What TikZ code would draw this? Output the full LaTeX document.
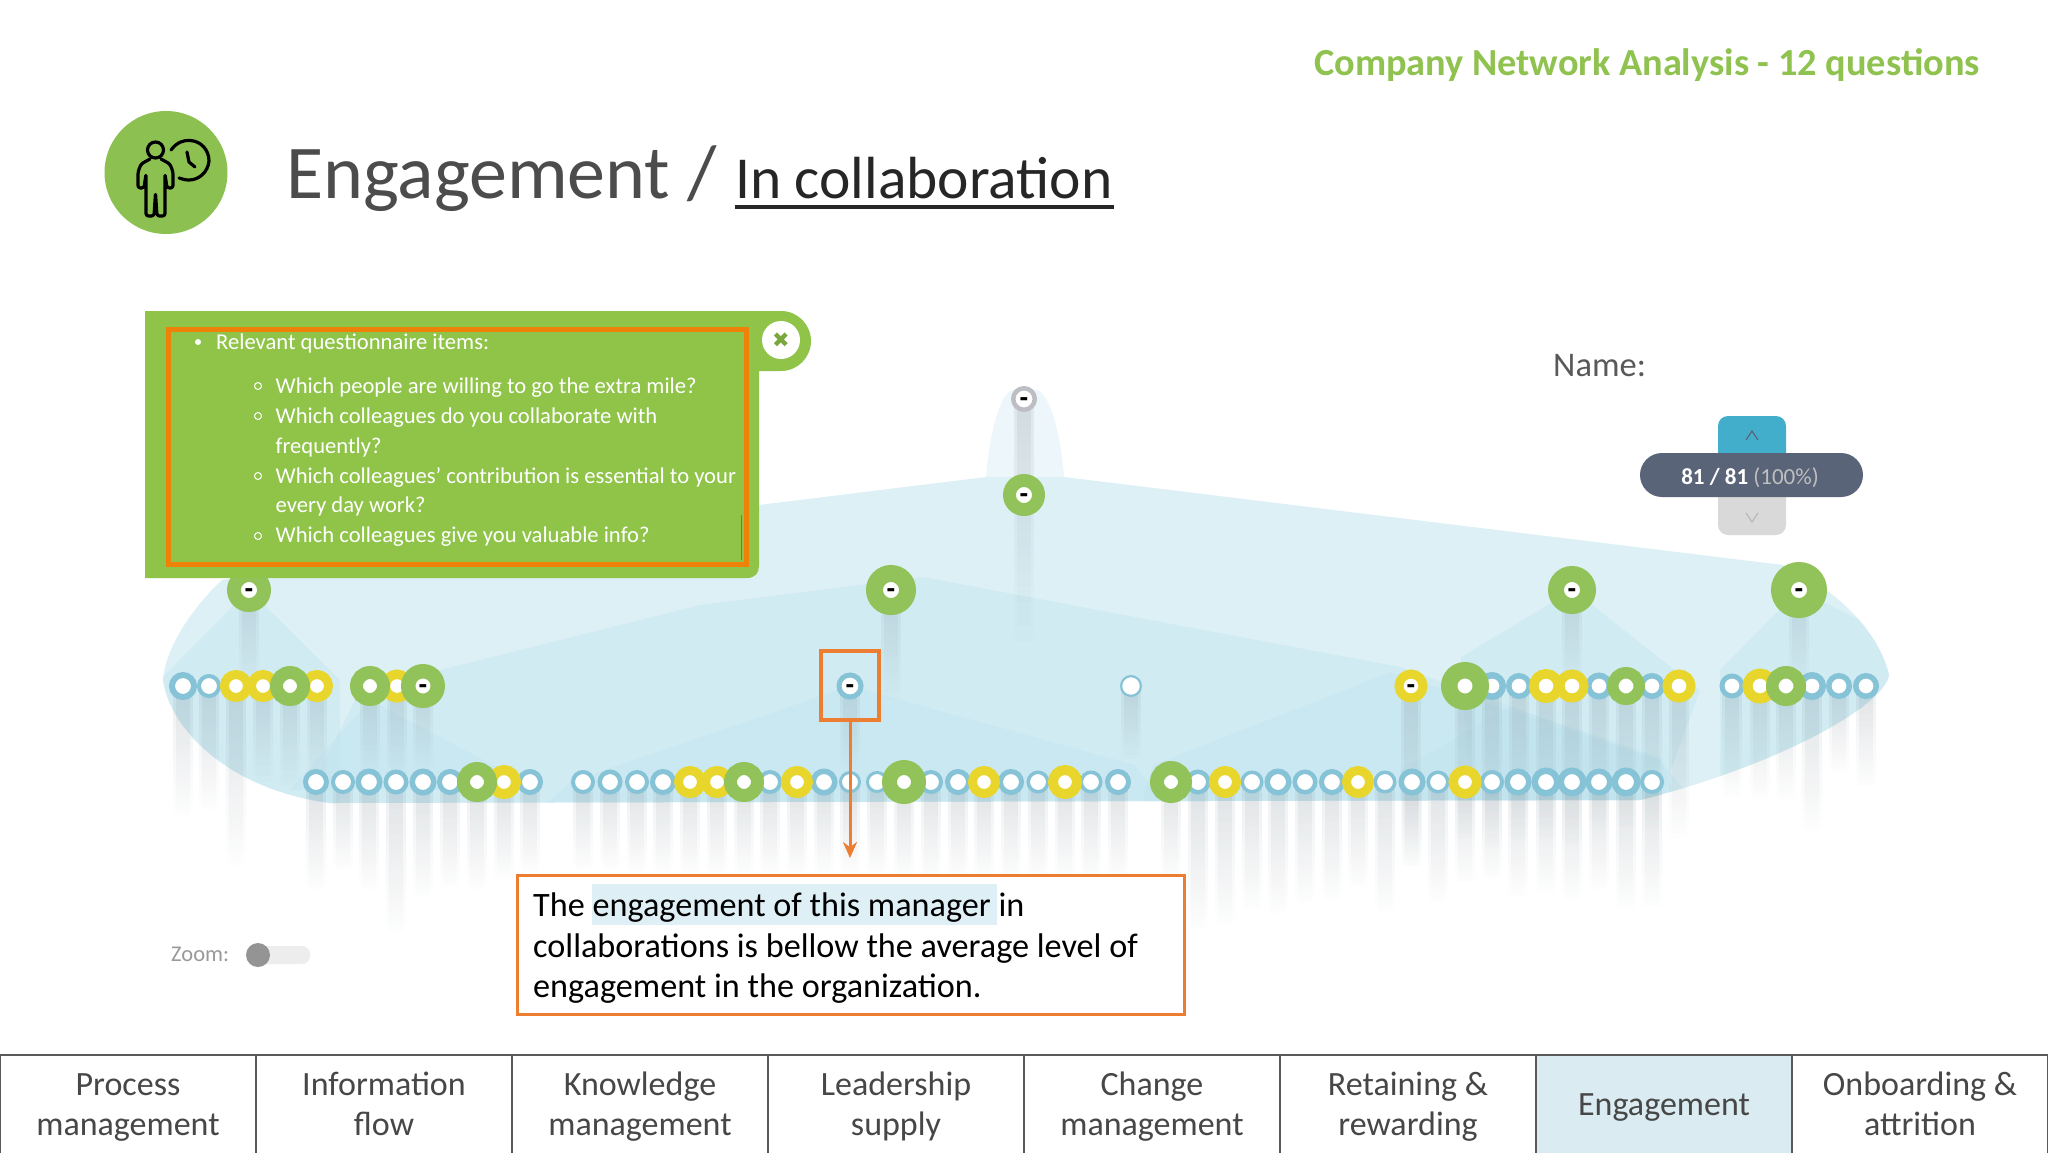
\documentclass[tikz,border=0pt]{standalone}
\usepackage{fontspec}
\setmainfont{Carlito}
\newfontfamily\symf{DejaVu Sans}
\usetikzlibrary{arrows.meta,fadings,calc}
\definecolor{rb}{HTML}{86C3D6}
\definecolor{ry}{HTML}{E9D62C}
\definecolor{rg}{HTML}{92C35B}
\definecolor{rgr}{HTML}{BDBEC4}
\definecolor{hullc}{HTML}{DDF0F6}
\definecolor{fanc}{HTML}{BEE3EE}
\definecolor{panelg}{HTML}{8FC449}
\definecolor{orng}{HTML}{EE8208}
\definecolor{orng2}{HTML}{ED7D31}
\definecolor{hl}{HTML}{DEEFF6}
\definecolor{pill}{HTML}{5A6478}
\definecolor{upb}{HTML}{42AECB}
\definecolor{titleg}{HTML}{8FC24F}
\definecolor{tabf}{HTML}{DAECF2}
\definecolor{barc}{HTML}{75858F}
\definecolor{iconc}{HTML}{8CC152}
\tikzfading[name=barfade, top color=transparent!0, middle color=transparent!6, bottom color=transparent!100]
\tikzset{
  ring/.style n args={3}{circle,inner sep=0pt,outer sep=0pt,fill=white,draw=#1,line width={(#2-#3)*1pt},minimum size={(#2+#3)*1pt},text=black},
  fan/.style={fill=fanc,opacity=.36},
  tabcell/.style={draw=black!65,line width=1.6pt,anchor=north west,outer sep=0pt,minimum width=256pt,minimum height=104pt,inner sep=0pt,align=center,text=black!72,font=\fontsize{34}{40}\selectfont},
  qtext/.style={anchor=base west,inner sep=0pt,text=white,font=\fontsize{22.6}{26}\selectfont},
  btn/.style={rounded corners=10pt,minimum width=68pt,minimum height=60pt,inner sep=0pt},
}
\newcommand{\minusmark}{\raisebox{-6pt}[0pt][0pt]{\symf\bfseries\fontsize{22}{22}\selectfont -}}
\newcommand{\pendant}[3]{%
  \fill[barc,opacity=.12,path fading=barfade] ({#1-10},#2) rectangle ({#1+10},#3);
  \fill[barc,opacity=.12,path fading=barfade] ({#1-7},#2) rectangle ({#1+7},#3);
}
\begin{document}
\begin{tikzpicture}[x=1pt,y=-1pt]
\useasboundingbox (0,0) rectangle (2048,1152);
\fill[white] (0,0) rectangle (2048,1152);
% header
\node[anchor=base east,inner sep=0pt,text=titleg,font=\bfseries\fontsize{38.3}{40}\selectfont] (company) at (1980,75) {Company Network Analysis - 12 questions};
\node[anchor=base west,inner sep=0pt,text=black!70,font=\fontsize{76}{80}\selectfont] (titlea) at (286,198) {Engagement /};
\node[anchor=base west,inner sep=0pt,text=black!85,font=\fontsize{59.5}{60}\selectfont] (titleb) at (735,198) {In collaboration};
\draw[line width=3.5pt,black!85] (735,207) -- (1114,207);
% icon
\fill[iconc] (166,172.5) circle (61.5);
\begin{scope}[black,line width=3.2pt,line join=round,line cap=round]
\draw (155.5,150) circle (8);
\draw[rounded corners=2.5pt] (150,159) -- (141,164) -- (138,172) -- (138,188) -- (144,188) -- (146,174) -- (146,216) -- (154,216) -- (155.5,193) -- (157,216) -- (165,216) -- (165,174) -- (167,188) -- (173,188) -- (173,172) -- (170,164) -- (161,159);
\draw (171,150) .. controls (177,142) and (184,140) .. (190,140.5) .. controls (201,141) and (209,150) .. (209,161) .. controls (208,172) and (199,180) .. (189,180) .. controls (185,180) and (182,179) .. (179,178);
\draw (187,152) -- (189,162) -- (195,167);
\end{scope}
% hull and layers
\fill[hl!55!white] (986,477) .. controls (990,430) and (1000,395) .. (1012,390) -- (1037,390) .. controls (1050,395) and (1060,430) .. (1064,477) -- cycle;
\def\hullpath{(222,580) -- (759,505) -- (986,477) -- (1064,477) -- (1783,565) .. controls (1840,590) and (1880,635) .. (1889,675) .. controls (1885,705) and (1780,765) .. (1640,800) -- (330,803) .. controls (230,790) and (170,730) .. (163,680) .. controls (165,650) and (190,610) .. (222,580) -- cycle}
\fill[hullc] \hullpath;
\begin{scope}
\clip \hullpath;
\fill[fan] (360,690) -- (700,605) -- (923,577) -- (1400,667) -- (1660,760) -- (1660,810) -- (300,810) -- cycle;
\fill[fan] (249,590) -- (150,690) -- (150,810) -- (340,810) -- (340,680) -- cycle;
\fill[fan] (370,700) -- (290,790) -- (540,790) -- cycle;
\fill[fan] (850,686) -- (570,782) -- (540,810) -- (1170,810) -- (1135,765) -- cycle;
\fill[fan] (1391,672) -- (1153,765) -- (1140,810) -- (1700,810) -- (1660,760) -- cycle;
\fill[fan] (1573,590) -- (1461,657) -- (1470,800) -- (1660,800) -- (1700,690) -- cycle;
\fill[fan] (1799,590) -- (1720,670) -- (1720,800) -- (1900,800) -- (1900,640) -- cycle;
\fill[fan] (1510,707) -- (1400,770) -- (1400,810) -- (1680,810) -- (1660,757) -- cycle;
\end{scope}
% pendants
\foreach \x/\b in {249/690,891/700,1572/690,1799/690} {\pendant{\x}{590}{\b}}
\pendant{1024}{399}{645}
\foreach \x/\b in {183/817,209/810,236/867,263/783,290/787,317/787,370/783,397/785,423/773,850/770,1131/760,1411/867,1465/840,1492/850,1519/840,1546/840,1572/847,1599/830,1626/830,1652/830,1679/840,1732/797,1760/800,1786/800,1812/833,1839/773,1866/787} {\pendant{\x}{686}{\b}}
\foreach \x/\b in {316/890,343/870,369/890,396/933,423/897,450/887,477/890,504/880,530/873,583/870,610/870,637/873,663/873,690/875,717/875,744/875,770/875,797/875,824/875,850/875,877/875,904/880,931/880,958/880,984/880,1011/880,1038/880,1065/880,1091/880,1118/880,1171/880,1198/930,1225/927,1252/910,1278/915,1305/903,1332/900,1358/887,1385/913,1412/867,1438/903,1465/883,1492/880,1518/897,1546/893,1572/900,1599/890,1626/910,1652/907} {\pendant{\x}{782}{\b}}
% upper nodes
\node[ring={rgr}{13}{8.5}] (u0) at (1024,399) {\minusmark};
\node[ring={rg}{21}{8}] (u1) at (1024,495) {\minusmark};
\node[ring={rg}{25}{8}] (u2) at (891,590) {\minusmark};
\node[ring={rg}{24}{8}] (u3) at (1572,590) {\minusmark};
\node[ring={rg}{28}{8}] (u4) at (1799,590) {\minusmark};
\node[ring={rg}{22}{8}] (u5) at (249,590) {\minusmark};
% row 1
\foreach \x/\R/\r in {183/14/8,209/12/8,850/13.5/8.5,1492/14/7.5,1519/13/7.5,1599/13.5/7.5,1652/13/7.5,1732/12.5/7.5,1812/14/7.5,1839/13/7.5,1866/13/7.5}
  {\node[ring={rb}{\R}{\r}] (ra\x) at (\x,686) {\ifnum\x=850 \minusmark\fi};}
\node[ring={rb}{11}{8.8}] (ra1131) at (1131,686) {};
\foreach \x/\R/\r in {236/16/7,263/16/7,317/16/7,397/16.5/7,1411/16.5/7.5,1546/17/7.5,1572/16.5/7.5,1679/16.5/7.5,1760/17.5/7.5}
  {\node[ring={ry}{\R}{\r}] (ra\x) at (\x,686) {\ifnum\x=1411 \minusmark\fi};}
\foreach \x/\R/\r in {290/20/7,370/20/7,423/22/7.5,1465/24/7.5,1626/19/7.5,1786/20/7.5}
  {\node[ring={rg}{\R}{\r}] (ra\x) at (\x,686) {\ifnum\x=423 \minusmark\fi};}
% row 2
\foreach \x/\R in {316/13,343/12,369/13.5,396/12.5,423/13.5,450/13,530/13,583/12,610/12.5,637/12,663/13,770/12,824/13.5,850/11,877/11,931/12,958/13,1011/13,1038/11.5,1091/11.5,1118/13,1198/12.5,1252/11.5,1278/13.5,1305/12.5,1332/13,1385/11.5,1412/13.5,1438/11.5,1492/12,1518/13.5,1546/14.5,1572/14.5,1599/13.5,1626/14.5,1652/12}
  {\node[ring={rb}{\R}{8}] (rb\x) at (\x,782) {};}
\foreach \x/\R in {504/17,690/16,717/16,797/16,984/16,1065/17,1225/16,1358/16,1465/16.5}
  {\node[ring={ry}{\R}{7}] (rb\x) at (\x,782) {};}
\foreach \x/\R in {477/20,744/20,904/22,1171/21}
  {\node[ring={rg}{\R}{7}] (rb\x) at (\x,782) {};}
% green panel
\fill[panelg] (145,311) -- (781,311) arc[start angle=-90,end angle=90,radius=30] -- (759,371) -- (759,566) .. controls (759,573) and (755,578) .. (747,578) -- (145,578) -- cycle;
\draw[line width=.8pt,panelg!70!black] (741,515) -- (741,560);
\node[circle,fill=white,minimum size=38pt,inner sep=0pt,text=panelg!85!black,font=\symf\fontsize{21}{21}\selectfont] (closex) at (781,340) {✖};
\node[circle,fill=white,minimum size=6pt,inner sep=0pt] (bul) at (198,342) {};
\node[qtext] (q0) at (216,349) {Relevant questionnaire items:};
\foreach \n/\yy/\tx in {q1/393/Which people are willing to go the extra mile?,q2/423/Which colleagues do you collaborate with,q3/453/frequently?,q4/483/Which colleagues' contribution is essential to your,q5/512/every day work?,q6/542/Which colleagues give you valuable info?}
  {\node[qtext] (\n) at (275.5,\yy) {\tx};}
\foreach \yy in {386,416,476,536}
  {\node[circle,draw=white,line width=1pt,minimum size=7pt,inner sep=0pt] (cb\yy) at (258,\yy) {};}
\node[draw=orng,line width=5pt,outer sep=0pt,minimum width=578pt,minimum height=235pt,inner sep=0pt] (qframe) at (457,446.5) {};
% name & counter
\node[anchor=base west,inner sep=0pt,text=black!65,font=\fontsize{34.5}{36}\selectfont] (namelbl) at (1553,376) {Name:};
\node[btn,fill=upb] (upbtn) at (1752,446) {};
\node[btn,fill=black!15] (dnbtn) at (1752,505) {};
\draw[pill,line width=1.2pt] (1746,440) -- (1752,431) -- (1758,440);
\draw[black!28,line width=1.2pt] (1746,513) -- (1752,522) -- (1758,513);
\node[fill=pill,rounded corners=22pt,minimum width=223pt,minimum height=44pt,inner sep=0pt] (counter) at (1751.5,475) {};
\node[anchor=base,inner sep=0pt,font=\fontsize{23}{25}\selectfont] (countert) at (1750,484) {\textcolor{white}{\bfseries 81 / 81} \textcolor{black!25}{(100\%)}};
% zoom
\node[anchor=base west,inner sep=0pt,text=black!40,font=\fontsize{22.5}{24}\selectfont] (zoomlbl) at (171,961) {Zoom:};
\fill[black!7,rounded corners=8pt] (250,946) rectangle (310,964);
\node[circle,fill=black!42,minimum size=24pt,inner sep=0pt] (knob) at (258,955) {};
% annotation
\fill[white] (517,875) rectangle (1184,1014);
\fill[hl] (592,884) rectangle (997,925);
\node[draw=orng2,line width=3pt,anchor=north west,outer sep=0pt,minimum width=667pt,minimum height=139pt,inner sep=0pt] (callout) at (517,875) {};
\node[anchor=base west,inner sep=0pt,font=\fontsize{34.2}{36}\selectfont] (c1) at (533,916) {The engagement of this manager in};
\node[anchor=base west,inner sep=0pt,font=\fontsize{34.2}{36}\selectfont] (c2) at (533,957) {collaborations is bellow the average level of};
\node[anchor=base west,inner sep=0pt,font=\fontsize{34.2}{36}\selectfont] (c3) at (533,997) {engagement in the organization.};
\node[draw=orng2,line width=4.5pt,outer sep=0pt,minimum width=58pt,minimum height=69pt,inner sep=0pt] (mgr) at (850,685.5) {};
\coordinate (tip) at (850,858);
\draw[orng2,line width=3pt,-{Stealth[length=16pt,width=14pt]}] (mgr.south) -- (tip);
% tabs
\foreach \i/\tx in {0/\strut Process\\\strut management,1/\strut Information\\\strut flow,2/\strut Knowledge\\\strut management,3/\strut Leadership\\\strut supply,4/\strut Change\\\strut management,5/\strut Retaining \&\\\strut rewarding,6/\strut Engagement,7/\strut Onboarding \&\\\strut attrition}
  {\pgfmathtruncatemacro{\xx}{256*\i}
   \ifnum\i=6
     \node[tabcell,fill=tabf] (tab\i) at (\xx,1055) {\tx};
   \else
     \node[tabcell] (tab\i) at (\xx,1055) {\tx};
   \fi}
\end{tikzpicture}
\end{document}
